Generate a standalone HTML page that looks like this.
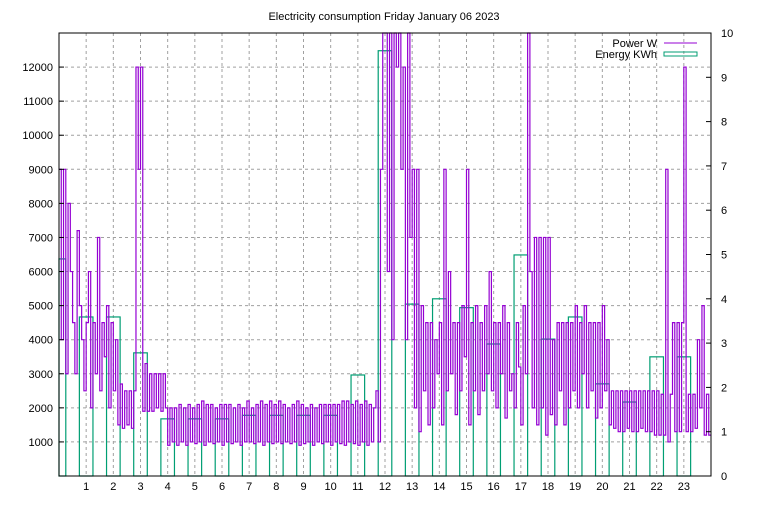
<!DOCTYPE html>
<html><head><meta charset="utf-8"><style>
body{margin:0;background:#fff;}
svg{font-family:"Liberation Sans",sans-serif;font-size:11px;}
</style></head><body>
<svg id="chart" width="768" height="500" xmlns="http://www.w3.org/2000/svg">
<text x="384" y="20" text-anchor="middle">Electricity consumption Friday January 06 2023</text>
<g id="grid"></g>
<g id="energy"></g>
<g id="power"></g>
<rect x="59" y="33" width="652" height="443" fill="none" stroke="#000" stroke-width="1"/>
<g id="axes"></g>
<g>
<text x="657" y="47" text-anchor="end">Power W</text>
<line x1="664" y1="43" x2="697" y2="43" stroke="#9400d3" stroke-width="1"/>
<text x="657" y="58" text-anchor="end">Energy KWh</text>
<rect x="664" y="52" width="33" height="4" fill="none" stroke="#009e73" stroke-width="1"/>
</g>
</svg>
<script>
const hours = [0,1,2,3,4,5,6,7,8,9,10,11,12,13,14,15,16,17,18,19,20,21,22,23];
const energyKWh = [4.9,3.59,3.59,2.78,1.29,1.29,1.29,1.37,1.37,1.37,1.37,2.28,9.6,3.88,4.0,3.8,2.98,4.99,3.09,3.59,2.08,1.67,2.69,2.69];
const powerW = [
9000,4000,9000,3000,8000,6000,4500,3000,7200,5000,4000,2500,
4500,6000,2000,4500,3000,7000,2500,4500,3500,5000,2000,4500,
2500,4000,1500,2700,1400,2500,1500,2500,1400,2500,12000,9000,
12000,1900,3300,1900,3000,1900,3000,2000,3000,1900,3000,2000,
900,2000,1000,2000,900,2100,1000,2000,900,2100,1000,2000,
950,2100,1000,2200,900,2100,1000,2100,950,2000,1000,2100,
900,2100,1000,2100,950,2000,1000,2100,900,2000,1000,2200,
1000,2000,950,2100,1000,2200,900,2100,1000,2200,950,2100,
1000,2200,950,2100,1000,2000,950,2100,1000,2200,900,2100,
950,2000,1000,2100,900,2000,1000,2100,950,2100,1000,2100,
900,2100,1000,2100,950,2200,900,2200,1000,2100,950,2200,
900,2100,1000,2200,900,2100,1000,2000,2500,1000,9000,13000,
13000,6000,13000,4000,13000,12000,13000,9000,12000,4000,13000,7000,
9000,2000,9000,1300,5000,2500,4500,1500,4500,2000,4000,3000,
4500,1500,9000,2500,6000,3000,4500,1800,4500,2500,5000,3500,
9000,1500,4500,2500,5000,1800,4500,2500,5000,3000,6000,2500,
4500,2000,4500,3000,5000,1700,4500,2500,3000,2000,4500,3200,
1500,5000,3000,13000,6000,2000,7000,1500,7000,2000,7000,1200,
7000,1800,4000,1500,4500,2500,4500,1500,4500,2000,4500,2500,
5000,2000,4500,3000,5000,2000,4500,2500,4500,1700,4500,2000,
5000,2500,4000,1500,2500,1400,2500,1300,2500,1300,2500,1400,
2500,1300,2500,1300,2500,1400,2500,1300,2500,1300,2500,1200,
2500,1200,2400,1200,9000,1000,2400,4500,1300,4500,1300,4500,
12000,1300,2400,1300,2400,1400,4000,2000,5000,1200,2400,1200];
const leftTicks = [1000,2000,3000,4000,5000,6000,7000,8000,9000,10000,11000,12000];
const rightTicks = [0,1,2,3,4,5,6,7,8,9,10];
const xTicks = [1,2,3,4,5,6,7,8,9,10,11,12,13,14,15,16,17,18,19,20,21,22,23];

const L=59,R=711,T=33,B=476;
const xs = h => L + h/24*(R-L);
const yL = v => B - Math.min(v,13000)/13000*(B-T);
const yR = v => B - Math.min(v,10)/10*(B-T);
const NS="http://www.w3.org/2000/svg";
function mk(tag, parent){const e=document.createElementNS(NS,tag);document.getElementById(parent).appendChild(e);return e;}

leftTicks.forEach(v=>{
  const g=mk('line','grid');
  
  
  g.setAttribute('x1',L);g.setAttribute('x2',R);g.setAttribute('y1',yL(v));g.setAttribute('y2',yL(v));
  g.setAttribute('stroke','#a0a0a0');g.setAttribute('stroke-dasharray','3,3');
  const t=mk('text','axes');
  
  
  t.setAttribute('x',L-6);t.setAttribute('y',yL(v)+4);t.setAttribute('text-anchor','end');t.textContent=v;
  const tk=mk('line','axes');
  
  
  tk.setAttribute('x1',L);tk.setAttribute('x2',L+5);tk.setAttribute('y1',yL(v));tk.setAttribute('y2',yL(v));tk.setAttribute('stroke','#000');
});
rightTicks.forEach(v=>{
  const t=mk('text','axes');
  
  
  t.setAttribute('x',R+10);t.setAttribute('y',yR(v)+4);t.textContent=v;
  const tk=mk('line','axes');
  
  
  tk.setAttribute('x1',R-5);tk.setAttribute('x2',R);tk.setAttribute('y1',yR(v));tk.setAttribute('y2',yR(v));tk.setAttribute('stroke','#000');
});
xTicks.forEach(h=>{
  const g=mk('line','grid');
  
  
  g.setAttribute('x1',xs(h));g.setAttribute('x2',xs(h));g.setAttribute('y1',T);g.setAttribute('y2',B);
  g.setAttribute('stroke','#a0a0a0');g.setAttribute('stroke-dasharray','3,3');
  const t=mk('text','axes');
  
  
  t.setAttribute('x',xs(h));t.setAttribute('y',B+14);t.setAttribute('text-anchor','middle');t.textContent=h;
});

hours.forEach((h,i)=>{
  const x0=Math.max(L,xs(h-0.25)), x1=Math.min(R,xs(h+0.25));
  const r=mk('rect','energy');
  
  
  r.setAttribute('x',x0);r.setAttribute('y',yR(energyKWh[i]));r.setAttribute('width',x1-x0);r.setAttribute('height',B-yR(energyKWh[i]));
  r.setAttribute('fill','none');r.setAttribute('stroke','#009e73');r.setAttribute('stroke-width','1.2');
});

let d='';
const n=powerW.length, step=24/n;
powerW.forEach((v,i)=>{
  const xa=xs(i*step), xb=xs((i+1)*step), y=yL(v);
  d += (i===0?'M':'L')+xa.toFixed(2)+','+y.toFixed(2)+'L'+xb.toFixed(2)+','+y.toFixed(2);
});
const p=mk('path','power');


p.setAttribute('d',d);p.setAttribute('fill','none');p.setAttribute('stroke','#9400d3');p.setAttribute('stroke-width','1.2');
</script>
</body></html>
